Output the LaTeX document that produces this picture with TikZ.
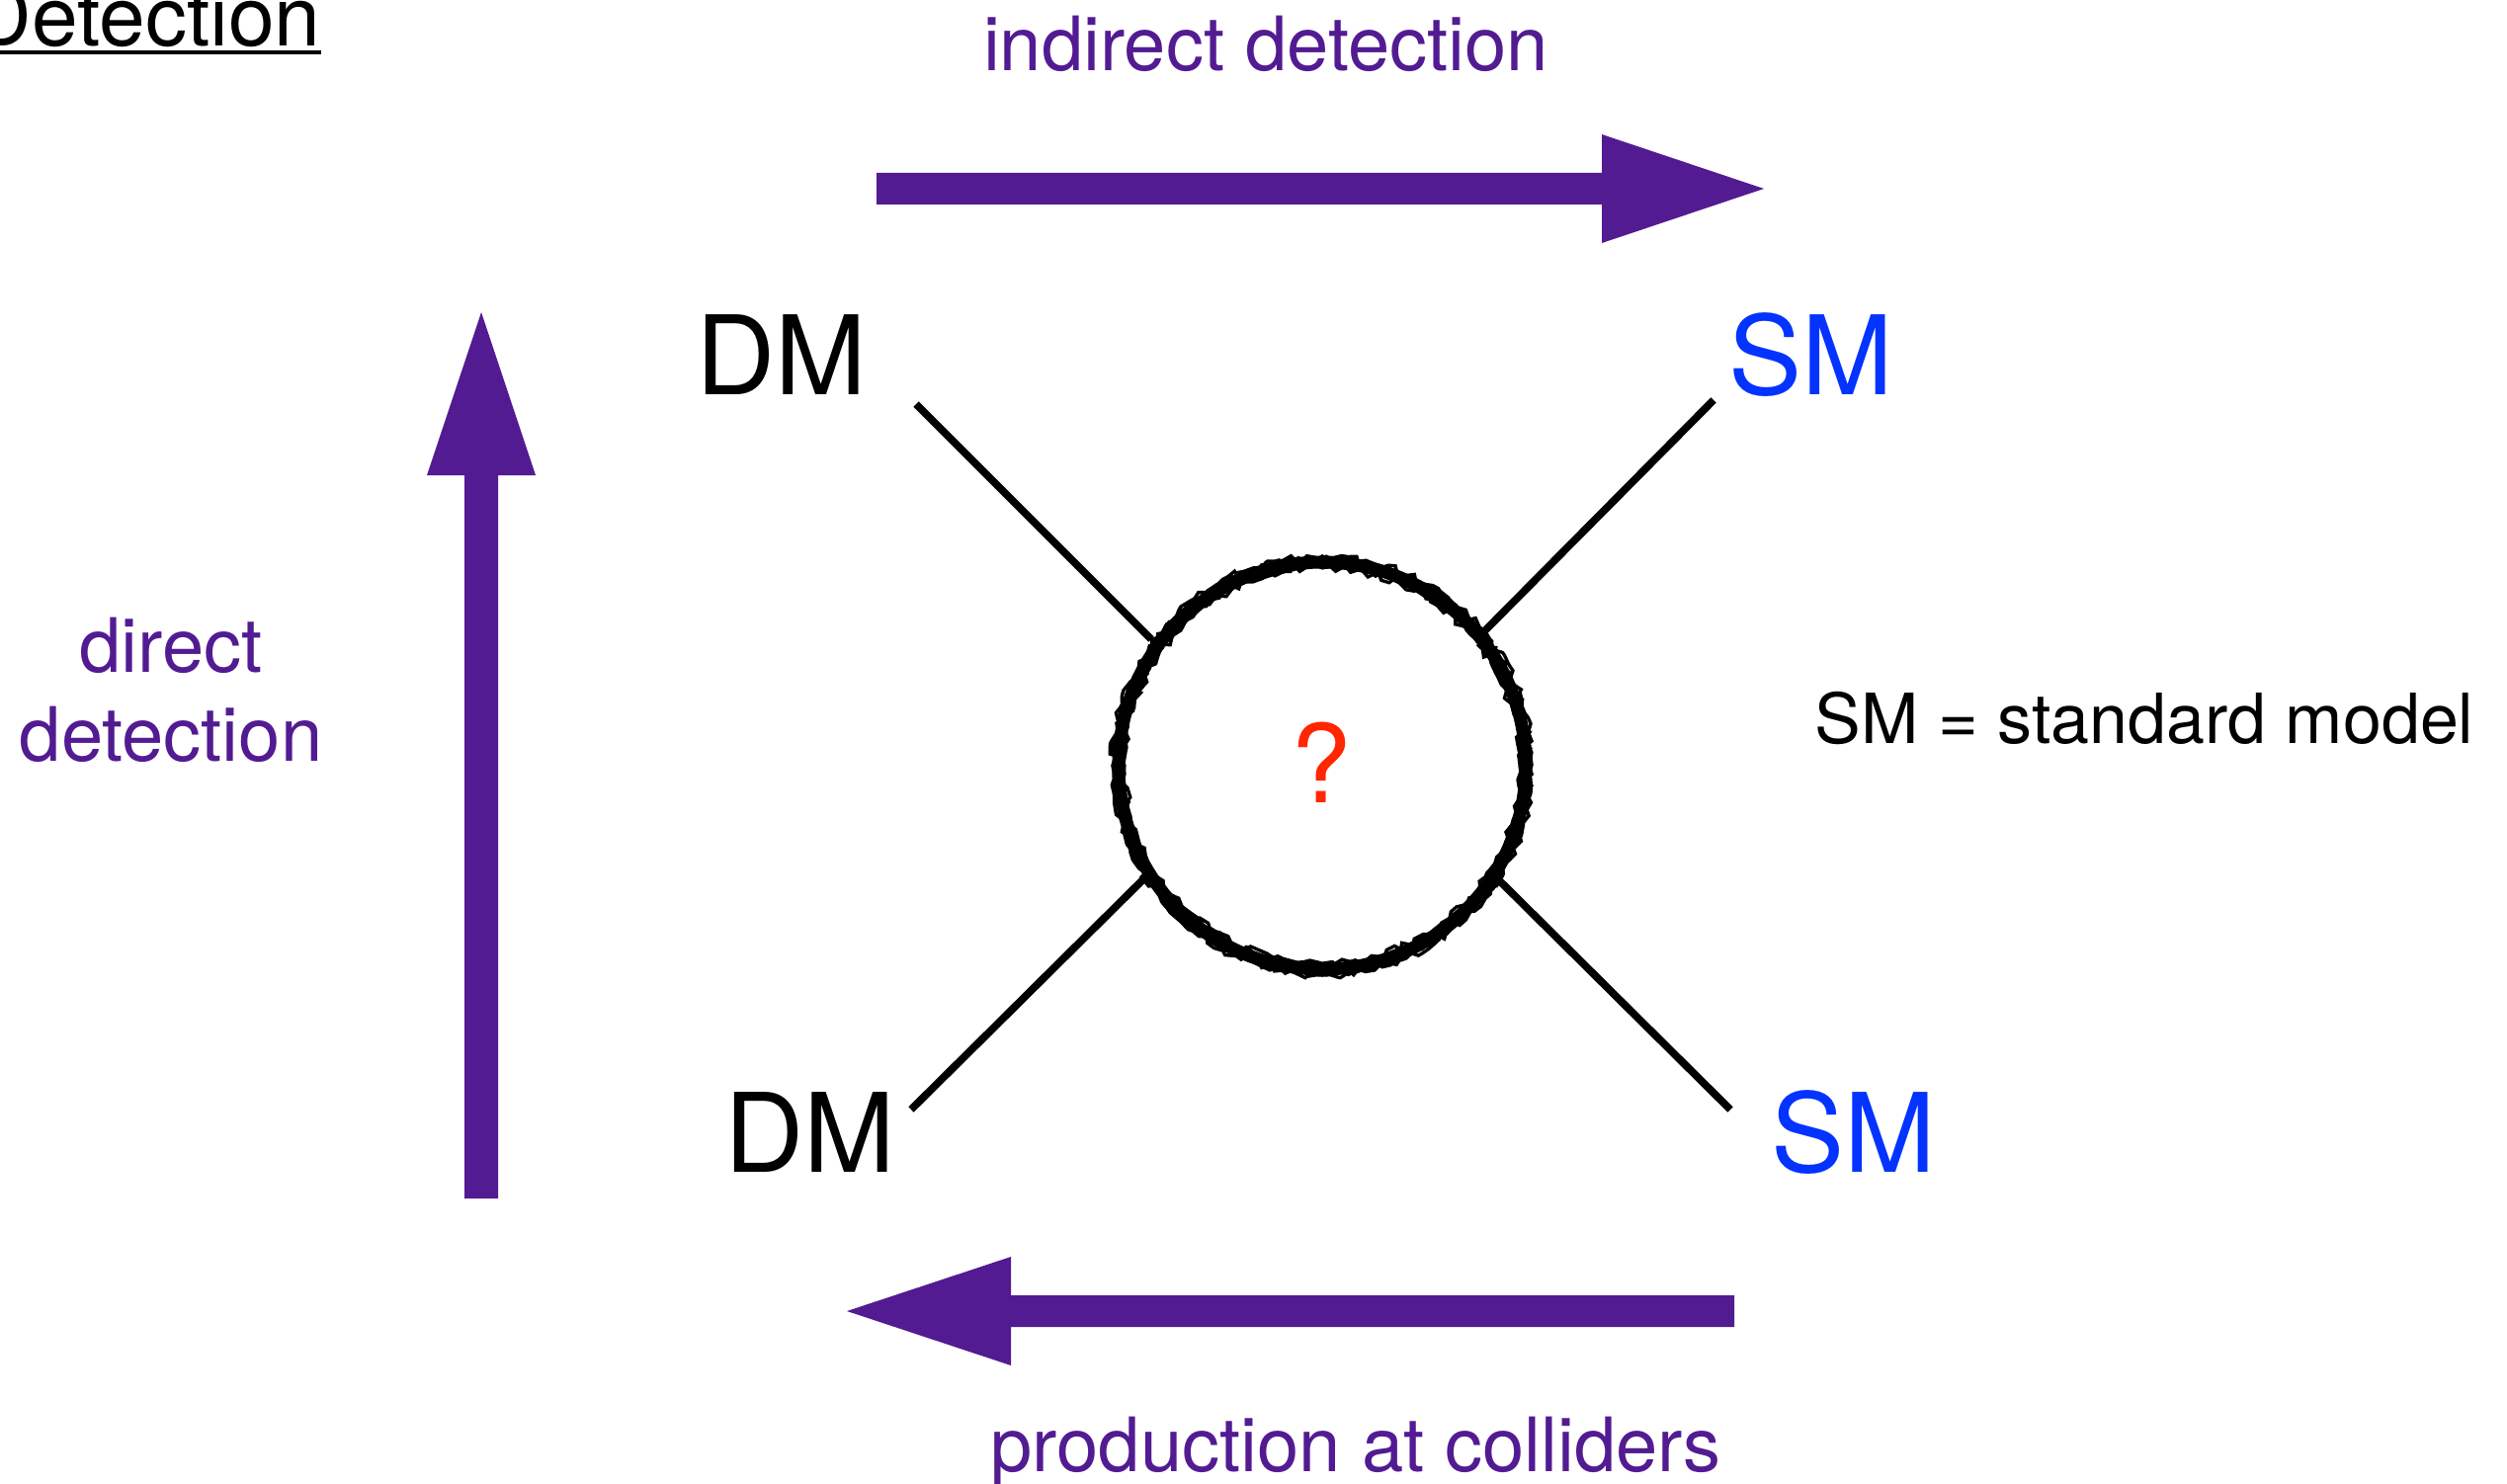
\documentclass[tikz,border=0pt]{standalone}
\usepackage{fontspec}
\setmainfont{TeX Gyre Heros}
\usetikzlibrary{decorations.pathmorphing}
\definecolor{dpurple}{HTML}{521B92}
\definecolor{smblue}{HTML}{0433FF}
\definecolor{qred}{HTML}{FF2600}
\tikzset{
  lbl/.style={inner sep=0pt, anchor=base, text=dpurple, font=\fontsize{22.8pt}{27pt}\selectfont},
  particle/.style={inner sep=0pt, anchor=base, font=\fontsize{33.3pt}{38pt}\selectfont},
  bigarrow/.style={fill=dpurple, draw=none},
  leg/.style={draw=black, line width=2.3pt},
  rough/.style={line width=1pt, decorate, decoration={random steps, segment length=2pt, amplitude=1.1pt}},
}
\begin{document}
\begin{tikzpicture}[x=0.3pt, y=-0.3pt]
\useasboundingbox (0,0) rectangle (2537,1501);
\pgfmathsetseed{7}
% title
\node[inner sep=0pt, anchor=base west, font=\fontsize{25.2pt}{29pt}\selectfont] (det) at (-29,47) {Detection};
\draw[line width=1.2pt] ([yshift=-1.8pt]det.base west) -- ([yshift=-1.8pt]det.base east);

% labels
\node[lbl] (ind) at (1281,72) {indirect detection};
\node[lbl] (dir1) at (173,680) {direct};
\node[lbl] (dir2) at (173,770) {detection};
\node[lbl] (prod) at (1372,1489) {production at colliders};

% arrows
\draw[bigarrow] (887,175) -- (1621,175) -- (1621,136) -- (1785,191) -- (1621,246) -- (1621,207) -- (887,207) -- cycle;
\draw[bigarrow] (470,1213) -- (470,481) -- (432,481) -- (487,316) -- (542,481) -- (504,481) -- (504,1213) -- cycle;
\draw[bigarrow] (1755,1311) -- (1023,1311) -- (1023,1272) -- (857,1327) -- (1023,1382) -- (1023,1343) -- (1755,1343) -- cycle;

% particles
\node[particle] (dmA) at (791,399) {DM};
\node[particle, text=smblue] (smA) at (1833,399) {SM};
\node[particle] (dmB) at (820,1186) {DM};
\node[particle, text=smblue] (smB) at (1876,1186) {SM};
\node[inner sep=0pt, anchor=base, font=\fontsize{21pt}{25pt}\selectfont] (key) at (2170,752) {SM = standard model};

% legs
\coordinate (a1) at (927,409);  \coordinate (a2) at (1165,647);
\coordinate (b1) at (1734,405); \coordinate (b2) at (1500,641);
\coordinate (c1) at (922,1123); \coordinate (c2) at (1162,885);
\coordinate (d1) at (1751,1123); \coordinate (d2) at (1514,888);
\draw[leg] (a1) -- (a2);
\draw[leg] (b1) -- (b2);
\draw[leg] (c1) -- (c2);
\draw[leg] (d1) -- (d2);

% blob
\coordinate (ctr) at (1338,775);
\draw[line width=3.9pt] (ctr) circle[radius=206];
\draw[rough] (ctr) circle[radius=200];
\draw[rough] (ctr) circle[radius=212];
\draw[rough, line width=0.8pt] (ctr) circle[radius=206];
\draw[rough, line width=0.8pt] (ctr) circle[radius=202];
\draw[rough, line width=0.8pt] (ctr) circle[radius=210];
\node[inner sep=0pt, anchor=base, text=qred, font=\fontsize{33pt}{38pt}\selectfont] (q) at (1337,812) {?};
\end{tikzpicture}
\end{document}
